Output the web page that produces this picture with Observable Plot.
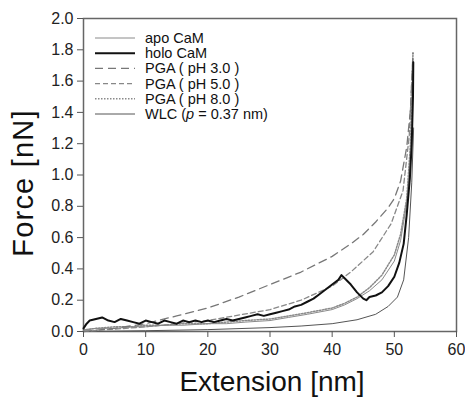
<!DOCTYPE html>
<html>
<head>
<meta charset="utf-8">
<script src="https://cdn.jsdelivr.net/npm/d3@7"></script>
<script src="https://cdn.jsdelivr.net/npm/@observablehq/plot@0.6"></script>
<style>
  html, body { margin: 0; padding: 0; background: #fff; }
  #chart { width: 465px; height: 400px; }
</style>
</head>
<body>
<div id="chart"></div>
<script>
// ---- data ----
const seriesNames = ["apo CaM", "holo CaM", "PGA ( pH 3.0 )", "PGA ( pH 5.0 )", "PGA ( pH 8.0 )", "WLC"];

const apoX = [0, 2, 5, 8, 10, 13, 16, 20, 23, 26, 30, 33, 36, 40, 42, 44, 46, 48, 50, 51, 52, 52.6, 53];
const apoY = [0.01, 0.02, 0.02, 0.03, 0.03, 0.04, 0.04, 0.05, 0.05, 0.06, 0.07, 0.09, 0.11, 0.14, 0.17, 0.21, 0.26, 0.33, 0.45, 0.58, 0.82, 1.1, 1.3];

const holoX = [0, 0.5, 1, 2, 3, 4, 5, 6, 7, 8, 9, 10, 11, 12, 13, 14, 15, 16, 17, 18, 19, 20, 21, 22, 23, 24, 25, 26, 27, 28, 29, 30, 31, 32, 33, 34, 35, 36, 37, 38, 39, 40, 41, 41.5, 42, 43, 44, 45, 45.5, 46, 47, 48, 49, 50, 50.8, 51.5, 52, 52.5, 52.8, 53, 53.05];
const holoY = [0.02, 0.05, 0.07, 0.08, 0.09, 0.07, 0.06, 0.08, 0.07, 0.06, 0.05, 0.07, 0.06, 0.05, 0.07, 0.06, 0.05, 0.07, 0.06, 0.07, 0.06, 0.07, 0.06, 0.07, 0.08, 0.07, 0.08, 0.09, 0.1, 0.11, 0.1, 0.11, 0.12, 0.13, 0.14, 0.16, 0.17, 0.19, 0.21, 0.24, 0.27, 0.3, 0.33, 0.36, 0.34, 0.3, 0.25, 0.21, 0.2, 0.22, 0.23, 0.25, 0.29, 0.35, 0.44, 0.56, 0.75, 0.98, 1.2, 1.5, 1.72];

const ph3X = [0, 5, 10, 15, 20, 25, 30, 35, 40, 43, 45, 47, 49, 50, 51, 52, 52.6, 53];
const ph3Y = [0.0, 0.02, 0.05, 0.1, 0.15, 0.22, 0.3, 0.38, 0.48, 0.56, 0.62, 0.7, 0.79, 0.85, 0.96, 1.18, 1.42, 1.78];

const ph5X = [0, 10, 20, 30, 35, 40, 43, 46.6, 49.5, 51.4, 52.4, 53];
const ph5Y = [0.0, 0.03, 0.07, 0.14, 0.2, 0.29, 0.38, 0.51, 0.69, 0.9, 1.25, 1.76];

const ph8X = [0, 2, 5, 8, 10, 13, 16, 20, 23, 26, 30, 33, 36, 40, 42, 44, 46, 48, 50, 51, 52, 52.6, 53];
const ph8Y = [0.01, 0.02, 0.03, 0.03, 0.04, 0.04, 0.05, 0.05, 0.06, 0.07, 0.08, 0.1, 0.12, 0.15, 0.18, 0.22, 0.28, 0.36, 0.49, 0.62, 0.85, 1.2, 1.78];

const wlcX = [0, 10, 20, 30, 35, 40, 44, 47, 49, 50.5, 51.5, 52.3, 52.8, 53.1];
const wlcY = [0.0, 0.005, 0.012, 0.025, 0.035, 0.05, 0.075, 0.11, 0.16, 0.22, 0.33, 0.6, 0.95, 1.3];

const xTicks = [0, 10, 20, 30, 40, 50, 60];
const yTicks = [0, 0.2, 0.4, 0.6, 0.8, 1.0, 1.2, 1.4, 1.6, 1.8, 2.0];

// ---- build table ----
function rows(name, xs, ys) { return xs.map((x, i) => ({series: name, x, y: ys[i]})); }
const apo = rows(seriesNames[0], apoX, apoY);
const holo = rows(seriesNames[1], holoX, holoY);
const ph3 = rows(seriesNames[2], ph3X, ph3Y);
const ph5 = rows(seriesNames[3], ph5X, ph5Y);
const ph8 = rows(seriesNames[4], ph8X, ph8Y);
const wlc = rows(seriesNames[5], wlcX, wlcY);

const styles = {
  "apo CaM":        {stroke: "#8a8a8a", strokeWidth: 1, dash: null},
  "holo CaM":       {stroke: "#111111", strokeWidth: 2, dash: null},
  "PGA ( pH 3.0 )": {stroke: "#777777", strokeWidth: 1.3, dash: "8,5"},
  "PGA ( pH 5.0 )": {stroke: "#888888", strokeWidth: 1.3, dash: "5,3"},
  "PGA ( pH 8.0 )": {stroke: "#8a8a8a", strokeWidth: 1.5, dash: "1.5,1.5"},
  "WLC":            {stroke: "#555555", strokeWidth: 1, dash: null}
};

const W = 465, H = 400;
const margin = {left: 83, right: 9, top: 18, bottom: 69};

function lineFor(data) {
  const s = styles[data[0].series];
  return Plot.line(data, {x: "x", y: "y", stroke: s.stroke, strokeWidth: s.strokeWidth,
    strokeDasharray: s.dash, curve: "linear"});
}

const plot = Plot.plot({
  width: W, height: H,
  marginLeft: margin.left, marginRight: margin.right, marginTop: margin.top, marginBottom: margin.bottom,
  style: {fontFamily: "Liberation Sans, Arial, sans-serif", fontSize: "16px", color: "#222", background: "#fff"},
  x: {domain: [0, 60]},
  y: {domain: [0, 2]},
  marks: [
    Plot.frame({stroke: "#666", strokeWidth: 1.5}),
    lineFor(wlc),
    lineFor(apo),
    lineFor(ph8),
    lineFor(ph5),
    lineFor(ph3),
    lineFor(holo),
    Plot.axisX({ticks: xTicks, tickSize: 6, tickPadding: 6, tickFormat: d3.format("d"), label: null, stroke: "#555", fontSize: 16}),
    Plot.axisY({ticks: yTicks, tickSize: 6, tickPadding: 4, tickFormat: d3.format(".1f"), label: null, stroke: "#555", fontSize: 16})
  ]
});

document.getElementById("chart").appendChild(plot);

// axis titles and in-plot legend
const svg = d3.select(plot);

svg.append("text")
  .attr("x", 272)
  .attr("y", 391)
  .attr("text-anchor", "middle")
  .attr("font-size", 28)
  .attr("fill", "#111")
  .text("Extension [nm]");

svg.append("text")
  .attr("transform", `translate(33, 183) rotate(-90)`)
  .attr("text-anchor", "middle")
  .attr("font-size", 29)
  .attr("letter-spacing", 1.2)
  .attr("fill", "#111")
  .text("Force [nN]");

const leg = svg.append("g").attr("font-size", 14.5).attr("fill", "#111").attr("text-anchor", "start");
seriesNames.forEach((name, i) => {
  const s = styles[name];
  const y = 38 + i * 15.2;
  leg.append("line")
    .attr("x1", 95).attr("x2", 135).attr("y1", y).attr("y2", y)
    .attr("stroke", s.stroke).attr("stroke-width", s.strokeWidth)
    .attr("stroke-dasharray", s.dash);
  const t = leg.append("text").attr("x", 145).attr("y", y).attr("dy", "0.35em").attr("text-anchor", "start");
  if (name === "WLC") {
    t.append("tspan").text("WLC (");
    t.append("tspan").attr("font-style", "italic").text("p");
    t.append("tspan").text(" = 0.37 nm)");
  } else {
    t.text(name);
  }
});
</script>
</body>
</html>
